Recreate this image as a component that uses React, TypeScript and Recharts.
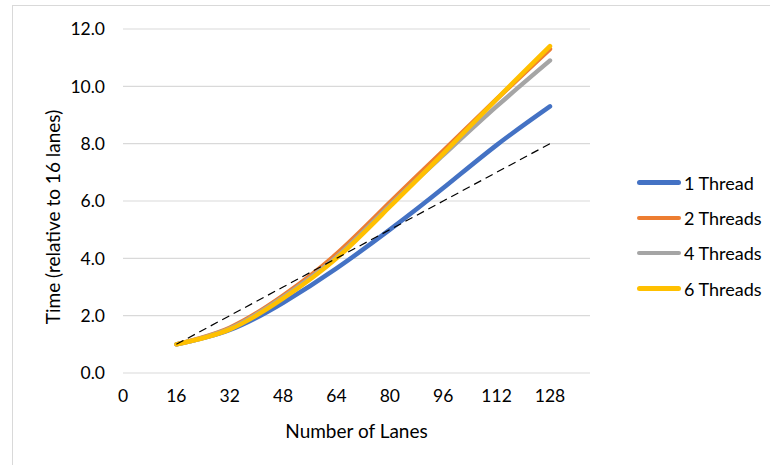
import React from "react";
import { LineChart, Line, XAxis, YAxis, CartesianGrid } from "recharts";

const lanes = [16, 32, 48, 64, 80, 96, 112, 128];
const oneThread = [1.0, 1.5, 2.45, 3.65, 5.0, 6.45, 7.95, 9.3];
const twoThreads = [1.0, 1.58, 2.7, 4.15, 5.95, 7.75, 9.55, 11.3];
const fourThreads = [1.0, 1.55, 2.65, 4.05, 5.85, 7.6, 9.3, 10.9];
const sixThreads = [1.0, 1.52, 2.6, 4.0, 5.8, 7.65, 9.55, 11.4];
const linear = [1, 2, 3, 4, 5, 6, 7, 8];

const xTicks = [0, 16, 32, 48, 64, 80, 96, 112, 128];
const yTicks = [0, 2, 4, 6, 8, 10, 12];

const series = [
  { key: "t1", name: "1 Thread", color: "#4472C4" },
  { key: "t2", name: "2 Threads", color: "#ED7D31" },
  { key: "t4", name: "4 Threads", color: "#A5A5A5" },
  { key: "t6", name: "6 Threads", color: "#FFC000" },
];

const data = lanes.map((l, i) => ({
  lanes: l,
  t1: oneThread[i],
  t2: twoThreads[i],
  t4: fourThreads[i],
  t6: sixThreads[i],
  linear: linear[i],
}));

const FONT = "Lato, 'Open Sans', sans-serif";

function LegendBox() {
  return (
    <div style={{ position: "absolute", left: 637, top: 165, fontFamily: FONT, fontSize: 18, color: "#000" }}>
      {series.map((s) => (
        <div key={s.key} style={{ display: "flex", alignItems: "center", height: 35.3 }}>
          <div style={{ width: 44, height: 4.5, borderRadius: 2.5, background: s.color, marginRight: 3 }} />
          <span>{s.name}</span>
        </div>
      ))}
    </div>
  );
}

function YLabel(props: any) {
  const vb = props.viewBox;
  const x = vb.x + 52;
  const y = vb.y + vb.height / 2 + 16;
  return (
    <text x={x} y={y} transform={`rotate(-90, ${x}, ${y})`} textAnchor="middle" dominantBaseline="central"
      style={{ fontFamily: FONT, fontSize: 19, fill: "#000" }}>
      Time (relative to 16 lanes)
    </text>
  );
}

export default function App() {
  return (
    <div style={{ position: "absolute", left: 0, top: 0, width: 770, height: 465, overflow: "hidden", background: "#fff" }}>
      <div style={{ position: "absolute", left: 12, top: 5, width: 800, height: 500, borderLeft: "1px solid #d9d9d9", borderTop: "1px solid #d9d9d9" }} />
      <div style={{ position: "absolute", left: 0, top: 0 }}>
        <LineChart width={770} height={465} data={data} margin={{ top: 29, right: 180, left: 0, bottom: 0 }}>
          <CartesianGrid vertical={false} stroke="#d9d9d9" strokeWidth={1.2} />
          <XAxis
            dataKey="lanes"
            type="number"
            domain={[0, 140]}
            ticks={xTicks}
            axisLine={false}
            tickLine={false}
            tickSize={8}
            tickMargin={9}
            height={92}
            tick={{ fontFamily: FONT, fontSize: 17.5, fill: "#000" }}
            label={{ value: "Number of Lanes", position: "insideBottom", offset: 27, style: { fontFamily: FONT, fontSize: 19, fill: "#000" } }}
          />
          <YAxis
            type="number"
            domain={[0, 12]}
            ticks={yTicks}
            axisLine={false}
            tickLine={false}
            tickSize={8}
            tickMargin={10}
            width={123}
            tickFormatter={(v: number) => v.toFixed(1)}
            tick={{ fontFamily: FONT, fontSize: 17.5, fill: "#000" }}
            label={<YLabel />}
          />
          {series.map((s) => (
            <Line
              key={s.key}
              type="natural"
              dataKey={s.key}
              name={s.name}
              stroke={s.color}
              strokeWidth={4.5}
              strokeLinecap="round"
              dot={false}
              isAnimationActive={false}
            />
          ))}
          <Line
            type="linear"
            dataKey="linear"
            stroke="#000"
            strokeWidth={1.2}
            strokeDasharray="8 5"
            dot={false}
            legendType="none"
            isAnimationActive={false}
          />
        </LineChart>
      </div>
      <LegendBox />
    </div>
  );
}
